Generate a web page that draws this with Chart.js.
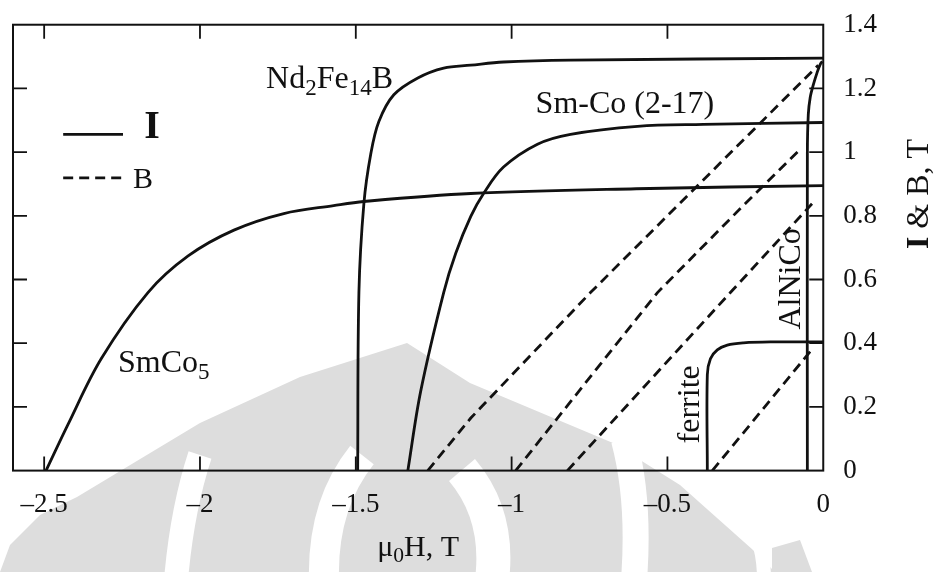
<!DOCTYPE html>
<html lang="en">
<head>
<meta charset="UTF-8">
<title>Demagnetization curves</title>
<style>
  body { margin: 0; background: #fff; }
  #wrap { width: 938px; height: 572px; }
</style>
</head>
<body>
<div id="wrap"><canvas id="chart" width="938" height="572"></canvas></div>
<script src="https://cdn.jsdelivr.net/npm/chart.js"></script>
<script>
// mu0H on x (T), I or B on y (T)
const xTicks = [-2.5, -2, -1.5, -1, -0.5, 0];
const yTicks = [0, 0.2, 0.4, 0.6, 0.8, 1, 1.2, 1.4];

// intrinsic curves I(H), solid
const smco5H = [-2.494, -2.423, -2.317, -2.167, -2.038, -1.891, -1.731, -1.571, -1.474, -1.131, -0.6, 0];
const smco5I = [0, 0.146, 0.351, 0.559, 0.674, 0.755, 0.807, 0.832, 0.845, 0.87, 0.885, 0.895];

const ndfebH = [-1.494, -1.49, -1.474, -1.452, -1.426, -1.378, -1.301, -1.218, -1.131, -1.026, -0.811, 0];
const ndfebI = [0, 0.559, 0.839, 0.994, 1.096, 1.18, 1.233, 1.264, 1.273, 1.283, 1.289, 1.295];

const smco217H = [-1.333, -1.292, -1.218, -1.179, -1.131, -1.09, -1.026, -0.917, -0.811, -0.596, -0.385, 0];
const smco217I = [0, 0.248, 0.559, 0.683, 0.798, 0.87, 0.953, 1.025, 1.056, 1.081, 1.087, 1.093];

const alnicoH = [-0.051, -0.051, -0.048, -0.042, -0.032, -0.019, -0.01, -0.003];
const alnicoI = [0, 0.994, 1.118, 1.171, 1.211, 1.252, 1.275, 1.285];

const ferriteH = [-0.372, -0.372, -0.362, -0.34, -0.308, -0.256, -0.17, 0];
const ferriteI = [0, 0.301, 0.351, 0.379, 0.394, 0.401, 0.404, 0.404];

// induction lines B(H), dashed
const ndfebBH = [-1.269, -1.131, -0.747, -0.016];
const ndfebB = [0, 0.165, 0.559, 1.273];

const smco217BH = [-0.987, -0.532, -0.266, -0.08];
const smco217B = [0, 0.559, 0.823, 1.003];

const smco5BH = [-0.821, -0.298, -0.035];
const smco5B = [0, 0.559, 0.839];

const ferriteBH = [-0.356, -0.035];
const ferriteB = [0, 0.382];

const ink = '#111';
const serif = '"Liberation Serif", "Times New Roman", serif';

function pts(xs, ys) {
    return xs.map((x, i) => ({ x: x, y: ys[i] }));
}

function iCurve(xs, ys) {
    return { data: pts(xs, ys), showLine: true, borderColor: ink, borderWidth: 2.8, tension: 0.35, pointRadius: 0 };
}

function bLine(xs, ys) {
    return { data: pts(xs, ys), showLine: true, borderColor: ink, borderWidth: 2.8, borderDash: [10, 6], tension: 0, pointRadius: 0 };
}

// text with subscripts: parts = [[text, isSub], ...]
function drawRich(ctx, parts, x, y, size, align, weight) {
    const subSize = size * 0.72;
    let total = 0;
    const widths = parts.map(([t, sub]) => {
        ctx.font = `${weight || 'normal'} ${sub ? subSize : size}px ${serif}`;
        const w = ctx.measureText(t).width;
        total += w;
        return w;
    });
    let cx = align === 'center' ? x - total / 2 : x;
    ctx.textAlign = 'left';
    ctx.textBaseline = 'middle';
    parts.forEach(([t, sub], i) => {
        ctx.font = `${weight || 'normal'} ${sub ? subSize : size}px ${serif}`;
        ctx.fillText(t, cx, sub ? y + size * 0.28 : y);
        cx += widths[i];
    });
}

const paper = {
    id: 'paper',
    beforeDraw(chart) {
        const ctx = chart.ctx;
        ctx.save();
        ctx.fillStyle = '#fff';
        ctx.fillRect(0, 0, chart.width, chart.height);

        // faint watermark behind the plot
        ctx.fillStyle = '#dddddd';
        ctx.beginPath();
        const hill = [[0, 572], [10, 545], [40, 515], [77, 497], [200, 423], [300, 377], [407, 343],
            [470, 383], [613, 443], [680, 485], [753, 550], [775, 572]];
        hill.forEach(([x, y], i) => i ? ctx.lineTo(x, y) : ctx.moveTo(x, y));
        ctx.closePath();
        ctx.fill();
        ctx.beginPath();
        ctx.moveTo(772, 548); ctx.lineTo(800, 540); ctx.lineTo(812, 572); ctx.lineTo(772, 572);
        ctx.fill();

        ctx.strokeStyle = '#fff';
        const bands = [
            [[200, 455], [182, 510], [176, 580], 24],
            [[362, 455], [322, 505], [324, 580], 30],
            [[462, 470], [500, 515], [492, 580], 34],
            [[624, 440], [640, 500], [634, 580], 26],
            [[758, 540], [764, 556], [764, 580], 14]
        ];
        bands.forEach(([a, b, c, w]) => {
            ctx.lineWidth = w;
            ctx.beginPath();
            ctx.moveTo(a[0], a[1]);
            ctx.quadraticCurveTo(b[0], b[1], c[0], c[1]);
            ctx.stroke();
        });
        ctx.restore();
    },
    afterDraw(chart) {
        const ctx = chart.ctx;
        const xs = chart.scales.x, ys = chart.scales.y;
        const a = chart.chartArea;
        const px = v => xs.getPixelForValue(v);
        const py = v => ys.getPixelForValue(v);
        ctx.save();
        ctx.strokeStyle = ink;
        ctx.fillStyle = ink;

        // frame and inward ticks
        ctx.lineWidth = 2;
        ctx.strokeRect(a.left, a.top, a.right - a.left, a.bottom - a.top);
        ctx.lineWidth = 1.8;
        ctx.beginPath();
        xTicks.filter(v => v !== 0).forEach(v => {
            ctx.moveTo(px(v), a.top); ctx.lineTo(px(v), a.top + 14);
            ctx.moveTo(px(v), a.bottom); ctx.lineTo(px(v), a.bottom - 14);
        });
        yTicks.filter(v => v > 0 && v < 1.4).forEach(v => {
            ctx.moveTo(a.left, py(v)); ctx.lineTo(a.left + 14, py(v));
            ctx.moveTo(a.right, py(v)); ctx.lineTo(a.right - 14, py(v));
        });
        ctx.stroke();

        // curve labels
        drawRich(ctx, [['Nd', 0], ['2', 1], ['Fe', 0], ['14', 1], ['B', 0]], px(-1.788), py(1.227), 32);
        drawRich(ctx, [['Sm-Co (2-17)', 0]], px(-0.923), py(1.149), 32);
        drawRich(ctx, [['SmCo', 0], ['5', 1]], px(-2.263), py(0.335), 32);

        ctx.save();
        ctx.translate(px(-0.426), py(0.208));
        ctx.rotate(-Math.PI / 2);
        drawRich(ctx, [['ferrite', 0]], 0, 0, 32, 'center');
        ctx.restore();

        ctx.save();
        ctx.translate(px(-0.103), py(0.602));
        ctx.rotate(-Math.PI / 2);
        drawRich(ctx, [['AlNiCo', 0]], 0, 0, 32, 'center');
        ctx.restore();

        // legend
        ctx.lineWidth = 2.8;
        ctx.beginPath();
        ctx.moveTo(px(-2.439), py(1.056)); ctx.lineTo(px(-2.247), py(1.056));
        ctx.stroke();
        ctx.setLineDash([10, 6]);
        ctx.beginPath();
        ctx.moveTo(px(-2.439), py(0.919)); ctx.lineTo(px(-2.247), py(0.919));
        ctx.stroke();
        ctx.setLineDash([]);
        drawRich(ctx, [['I', 0]], px(-2.179), py(1.078), 40, 'left', 'bold');
        drawRich(ctx, [['B', 0]], px(-2.215), py(0.913), 30);

        // axis titles
        drawRich(ctx, [['\u03bc', 0], ['0', 1], ['H, T', 0]], (a.left + a.right) / 2, 548, 30, 'center');
        ctx.save();
        ctx.translate(chart.width - 18, 194);
        ctx.rotate(-Math.PI / 2);
        ctx.font = `bold 32px ${serif}`;
        const wI = ctx.measureText('I').width;
        ctx.font = `normal 32px ${serif}`;
        const wRest = ctx.measureText(' & B, T').width;
        const x0 = -(wI + wRest) / 2;
        drawRich(ctx, [['I', 0]], x0, 0, 32, 'left', 'bold');
        drawRich(ctx, [[' & B, T', 0]], x0 + wI, 0, 32, 'left');
        ctx.restore();

        ctx.restore();
    }
};

new Chart(document.getElementById('chart'), {
    type: 'scatter',
    data: {
        datasets: [
            iCurve(smco5H, smco5I),
            iCurve(ndfebH, ndfebI),
            iCurve(smco217H, smco217I),
            iCurve(alnicoH, alnicoI),
            iCurve(ferriteH, ferriteI),
            bLine(ndfebBH, ndfebB),
            bLine(smco217BH, smco217B),
            bLine(smco5BH, smco5B),
            bLine(ferriteBH, ferriteB)
        ]
    },
    options: {
        responsive: false,
        animation: false,
        layout: { padding: { left: 13, top: 4, right: 41, bottom: 33 } },
        plugins: { legend: { display: false }, tooltip: { enabled: false } },
        scales: {
            x: {
                type: 'linear',
                position: 'bottom',
                min: -2.6,
                max: 0,
                afterBuildTicks: s => { s.ticks = xTicks.map(v => ({ value: v })); },
                grid: { display: false, drawTicks: false },
                border: { display: false },
                ticks: {
                    color: ink,
                    padding: 18,
                    autoSkip: false,
                    maxRotation: 0,
                    font: { family: serif, size: 27 },
                    callback: v => v < 0 ? '\u2013' + Math.abs(v) : String(v)
                }
            },
            y: {
                type: 'linear',
                position: 'right',
                min: 0,
                max: 1.4,
                afterBuildTicks: s => { s.ticks = yTicks.map(v => ({ value: v })); },
                grid: { display: false, drawTicks: false },
                border: { display: false },
                ticks: {
                    color: ink,
                    padding: 20,
                    autoSkip: false,
                    font: { family: serif, size: 27, lineHeight: 0.35 },
                    callback: v => String(Math.round(v * 10) / 10)
                }
            }
        }
    },
    plugins: [paper]
});
</script>
</body>
</html>
